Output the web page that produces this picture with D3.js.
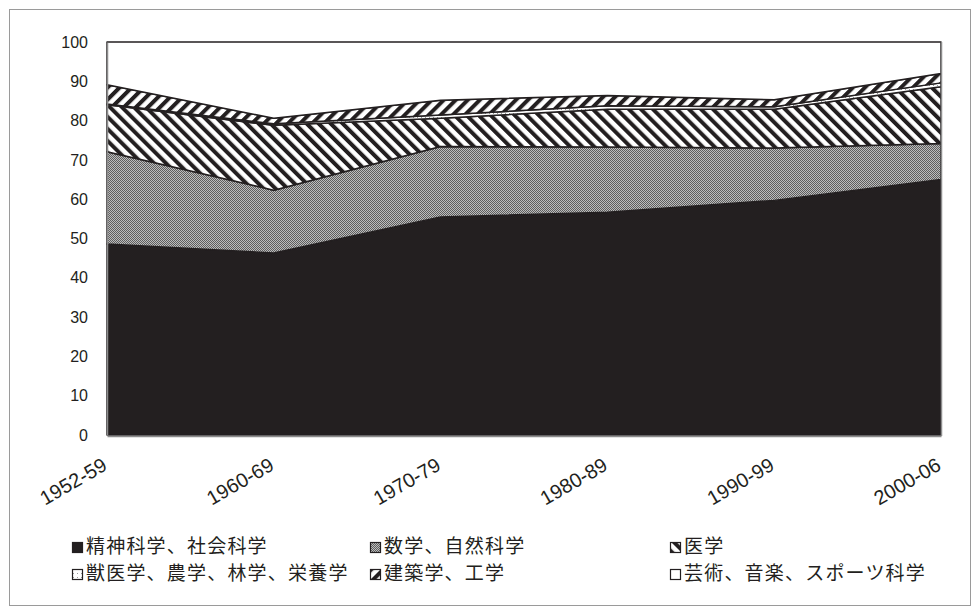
<!DOCTYPE html>
<html>
<head>
<meta charset="utf-8">
<script src="https://cdn.jsdelivr.net/npm/d3@7"></script>
<style>
  html, body { margin: 0; padding: 0; background: #fff; }
  svg { display: block; }
</style>
</head>
<body>
<svg id="chart" width="979" height="613"></svg>
<script>
// Periods on the x axis
const periods = ["1952-59", "1960-69", "1970-79", "1980-89", "1990-99", "2000-06"];

// Share of each field (percent), stacked bottom to top
const humanitiesSocial = [48.6, 46.3, 55.5, 56.7, 59.7, 65.0];
const mathScience      = [23.5, 16.0, 17.9, 16.6, 13.3, 9.2];
const medicine         = [11.9, 16.5, 7.2, 9.6, 9.9, 14.4];
const vetAgriculture   = [0.2, 0.4, 0.8, 0.9, 0.6, 1.0];
const engineering      = [4.9, 1.4, 3.8, 2.6, 1.8, 2.4];
const artsSport        = [10.9, 19.4, 14.8, 13.6, 14.7, 8.0];

const seriesNames = [
  "精神科学、社会科学",
  "数学、自然科学",
  "医学",
  "獣医学、農学、林学、栄養学",
  "建築学、工学",
  "芸術、音楽、スポーツ科学"
];
const seriesValues = [humanitiesSocial, mathScience, medicine, vetAgriculture, engineering, artsSport];

const yTicks = d3.range(0, 101, 10);

const svg = d3.select("#chart");
const plot = { left: 107, right: 941, top: 42, bottom: 435 };

// Outer frame
svg.append("rect")
  .attr("x", 9.5).attr("y", 9.5)
  .attr("width", 961).attr("height", 596)
  .attr("fill", "#fff").attr("stroke", "#9a9a9a").attr("stroke-width", 1);

// Fill patterns
const defs = svg.append("defs");

const checker = defs.append("pattern")
  .attr("id", "pat-checker").attr("patternUnits", "userSpaceOnUse")
  .attr("width", 2).attr("height", 2);
checker.append("rect").attr("width", 2).attr("height", 2).attr("fill", "#bdbdbd");
checker.append("rect").attr("x", 0).attr("y", 0).attr("width", 1).attr("height", 1).attr("fill", "#5e5e5e");
checker.append("rect").attr("x", 1).attr("y", 1).attr("width", 1).attr("height", 1).attr("fill", "#5e5e5e");

function stripes(id, angle) {
  const p = defs.append("pattern")
    .attr("id", id).attr("patternUnits", "userSpaceOnUse")
    .attr("width", 8.5).attr("height", 8.5)
    .attr("patternTransform", `rotate(${angle})`);
  p.append("rect").attr("width", 8.5).attr("height", 8.5).attr("fill", "#fff");
  p.append("rect").attr("x", 0).attr("y", 0).attr("width", 4).attr("height", 8.5).attr("fill", "#231f20");
}
stripes("pat-back", -45);   // \\\ stripes
stripes("pat-fwd", 45);     // /// stripes

const dots = defs.append("pattern")
  .attr("id", "pat-dots").attr("patternUnits", "userSpaceOnUse")
  .attr("width", 4).attr("height", 4);
dots.append("rect").attr("width", 4).attr("height", 4).attr("fill", "#fff");
dots.append("rect").attr("x", 1).attr("y", 1).attr("width", 1).attr("height", 1).attr("fill", "#999");

const fills = ["#231f20", "url(#pat-checker)", "url(#pat-back)", "url(#pat-dots)", "url(#pat-fwd)", "#fff"];

// Scales
const x = d3.scalePoint().domain(periods).range([plot.left, plot.right]);
const y = d3.scaleLinear().domain([0, 100]).range([plot.bottom, plot.top]);

// Stack data
const rows = periods.map((p, i) => {
  const r = { period: p };
  seriesNames.forEach((n, k) => { r[n] = seriesValues[k][i]; });
  return r;
});
const stacked = d3.stack().keys(seriesNames)(rows);

const area = d3.area()
  .x(d => x(d.data.period))
  .y0(d => y(d[0]))
  .y1(d => y(d[1]));

svg.append("g").selectAll("path")
  .data(stacked)
  .join("path")
  .attr("d", area)
  .attr("fill", (d, i) => fills[i])
  .attr("stroke", "#231f20")
  .attr("stroke-width", 1.5)
  .attr("stroke-linejoin", "round");

// Right edge of the plot
svg.append("line")
  .attr("x1", plot.right + 0.5).attr("x2", plot.right + 0.5)
  .attr("y1", plot.top).attr("y2", plot.bottom + 1)
  .attr("stroke", "#8c8c8c").attr("stroke-width", 1.5);

// Y axis
const yAxis = svg.append("g")
  .attr("transform", `translate(${plot.left},0)`)
  .call(d3.axisLeft(y).tickValues(yTicks).tickSize(0).tickPadding(19).tickFormat(d3.format("d")));
yAxis.select(".domain").attr("stroke", "#8c8c8c").attr("stroke-width", 1.5);
yAxis.selectAll("text")
  .attr("font-family", "'Liberation Sans', Arial, sans-serif")
  .attr("font-size", 16).attr("fill", "#231f20");

// X axis with slanted period labels
const xAxis = svg.append("g")
  .attr("transform", `translate(0,${plot.bottom + 1})`)
  .call(d3.axisBottom(x).tickSize(0).tickPadding(0));
xAxis.select(".domain").attr("stroke", "#8c8c8c").attr("stroke-width", 1.5);
xAxis.selectAll("text")
  .attr("font-family", "'Liberation Sans', Arial, sans-serif")
  .attr("font-size", 20).attr("fill", "#231f20")
  .attr("text-anchor", "end")
  .attr("dy", 0)
  .attr("y", 0)
  .attr("transform", "translate(1,33) rotate(-30)");

// Legend
const legendCols = [72, 370, 670];
const legendRows = [553, 580];
const legend = svg.append("g");
seriesNames.forEach((name, i) => {
  const cx = legendCols[i % 3];
  const cy = legendRows[Math.floor(i / 3)];
  const g = legend.append("g").attr("transform", `translate(${cx},${cy})`);
  g.append("rect")
    .attr("x", 0.5).attr("y", -10.5).attr("width", 10).attr("height", 10)
    .attr("fill", fills[i]).attr("stroke", "#231f20").attr("stroke-width", 1.2);
  g.append("text")
    .attr("x", 14).attr("y", 0)
    .attr("font-family", "'Noto Sans CJK JP', sans-serif")
    .attr("font-size", 19).attr("letter-spacing", 1.2).attr("fill", "#231f20")
    .text(name);
});
</script>
</body>
</html>
